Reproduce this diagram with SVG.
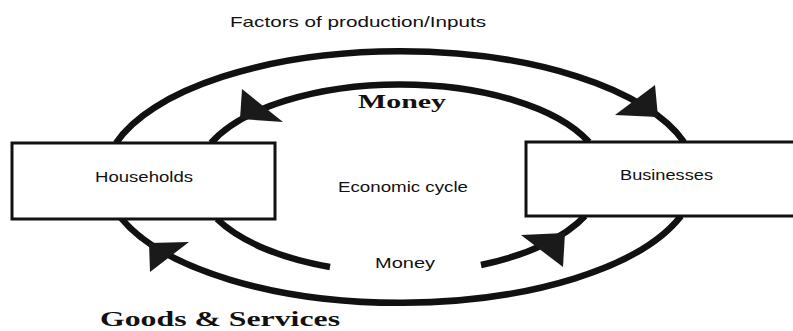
<svg xmlns="http://www.w3.org/2000/svg" width="793" height="331" viewBox="0 0 793 331">
  <style>
    .flow { fill: none; stroke: #111; stroke-width: 6.5; stroke-linecap: butt; }
    .head { fill: #1a1a1a; }
    .box { fill: #fff; stroke: #111; stroke-width: 3; }
    .lbl { font-family: "Liberation Sans", Arial, sans-serif; font-size: 15px; fill: #111; }
    .big { font-family: "Liberation Serif", "Times New Roman", serif; font-weight: bold; fill: #111; }
  </style>

  <rect width="793" height="331" fill="#fff"/>

  <!-- circular flows: outer loop (inputs / goods), inner loop (money) -->
  <g id="connectors">
    <path class="flow" d="M116,143 A296,127 0 0 1 684,142"/>
    <path class="flow" d="M121,218 A296,127 0 0 0 681,216"/>
    <path class="flow" d="M211,143 A204,93 0 0 1 589,142"/>
    <path class="flow" d="M217,219 A204,96 0 0 0 330,267"/>
    <path class="flow" d="M481,265 A204,96 0 0 0 585,216"/>
    <polygon class="head" points="242,89 283,122 240,119"/>
    <polygon class="head" points="655,85 615,115 658,117"/>
    <polygon class="head" points="149,243 189,242 150,272"/>
    <polygon class="head" points="521,235 565,233 563,267"/>
  </g>

  <g id="households">
    <rect class="box" x="12" y="143" width="263" height="76"/>
    <text class="lbl" x="95" y="182" textLength="98" lengthAdjust="spacingAndGlyphs">Households</text>
  </g>

  <g id="businesses">
    <rect class="box" x="526" y="142" width="290" height="74"/>
    <text class="lbl" x="620" y="180" textLength="93" lengthAdjust="spacingAndGlyphs">Businesses</text>
  </g>

  <g id="labels">
    <text class="lbl" x="230" y="27" textLength="256" lengthAdjust="spacingAndGlyphs">Factors of production/Inputs</text>
    <text class="big" x="358" y="108" font-size="18" textLength="88" lengthAdjust="spacingAndGlyphs">Money</text>
    <text class="lbl" x="338" y="192" textLength="130" lengthAdjust="spacingAndGlyphs">Economic cycle</text>
    <text class="lbl" x="375" y="268" textLength="60" lengthAdjust="spacingAndGlyphs">Money</text>
    <text class="big" x="100" y="326" font-size="21" textLength="240" lengthAdjust="spacingAndGlyphs">Goods &amp; Services</text>
  </g>
</svg>
